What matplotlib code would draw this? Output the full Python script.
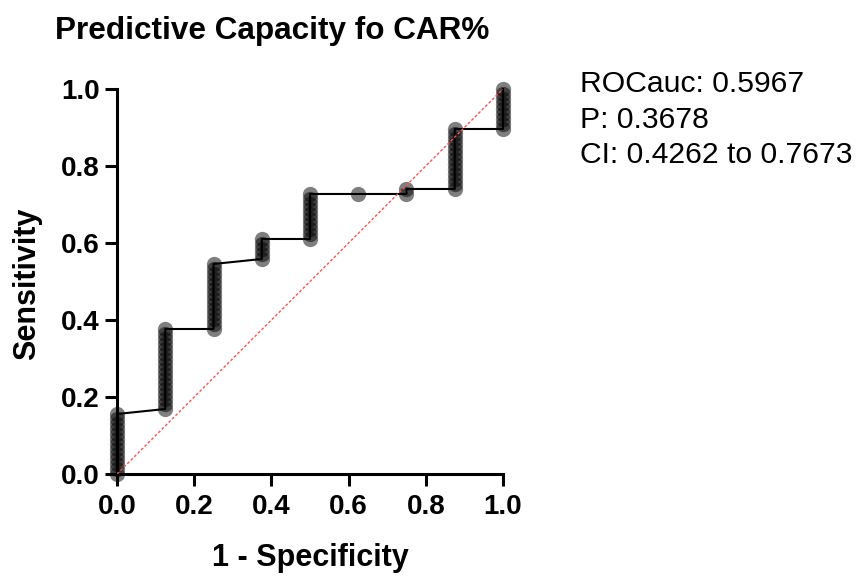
import matplotlib
matplotlib.use('Agg')
import matplotlib.pyplot as plt
import numpy as np

# ROC data: 8 negatives (fpr steps), 77 positives (tp counts per column)
n_pos = 77
fpr_cols = [0.0, 0.125, 0.25, 0.375, 0.5, 0.625, 0.75, 0.875, 1.0]
tp_lo = [0, 13, 29, 43, 47, 56, 56, 57, 69]
tp_hi = [12, 29, 42, 47, 56, 56, 57, 69, 77]

x_ticks = [0.0, 0.2, 0.4, 0.6, 0.8, 1.0]
y_ticks = [0.0, 0.2, 0.4, 0.6, 0.8, 1.0]
stats_lines = ["ROCauc: 0.5967", "P: 0.3678", "CI: 0.4262 to 0.7673"]

plt.rcParams['font.family'] = ['Liberation Sans', 'DejaVu Sans']

fpr = []
tpr = []
for fx, lo, hi in zip(fpr_cols, tp_lo, tp_hi):
    for k in range(lo, hi + 1):
        fpr.append(fx)
        tpr.append(k / n_pos)

fig = plt.figure(figsize=(8.61, 5.77), dpi=100)
ax = fig.add_axes([0.1359, 0.1785, 0.4483, 0.6673])

ax.plot(fpr, tpr, linestyle='none', marker='o', markersize=11,
        markerfacecolor='black', markeredgecolor='none', alpha=0.5,
        clip_on=False, zorder=2)
ax.plot(fpr, tpr, color='black', linewidth=1.5, clip_on=False, zorder=3)
ax.plot([0, 1], [0, 1], color='#ff5050', linewidth=1.0,
        linestyle=(0, (2, 1.5)), zorder=4)

ax.set_xlim(0, 1)
ax.set_ylim(0, 1)
ax.set_xticks(x_ticks)
ax.set_yticks(y_ticks)
ax.set_xticklabels(["%.1f" % v for v in x_ticks], fontsize=20, fontweight='bold')
ax.set_yticklabels(["%.1f" % v for v in y_ticks], fontsize=20, fontweight='bold')
ax.tick_params(direction='out', length=8.5, width=2.2, pad=4)
ax.tick_params(axis='x', pad=6)

ax.spines["right"].set_visible(False)
ax.spines["top"].set_visible(False)
for s in ("left", "bottom"):
    ax.spines[s].set_linewidth(2.2)
    ax.spines[s].set_capstyle('projecting')

fig.text(55 / 861, 1 - 39 / 577, "Predictive Capacity fo CAR%",
         fontsize=22.7, fontweight='bold', ha='left', va='baseline')
fig.text(310 / 861, 1 - 566 / 577, "1 - Specificity",
         fontsize=22, fontweight='bold', ha='center', va='baseline')
fig.text(27 / 861, 1 - 284 / 577, "Sensitivity", rotation=90,
         fontsize=22, fontweight='bold', ha='center', va='center')

for i, line in enumerate(stats_lines):
    fig.text(580 / 861, 1 - (92 + 35.5 * i) / 577, line,
             fontsize=21.7, ha='left', va='baseline')

plt.savefig('out.png', dpi=100)
